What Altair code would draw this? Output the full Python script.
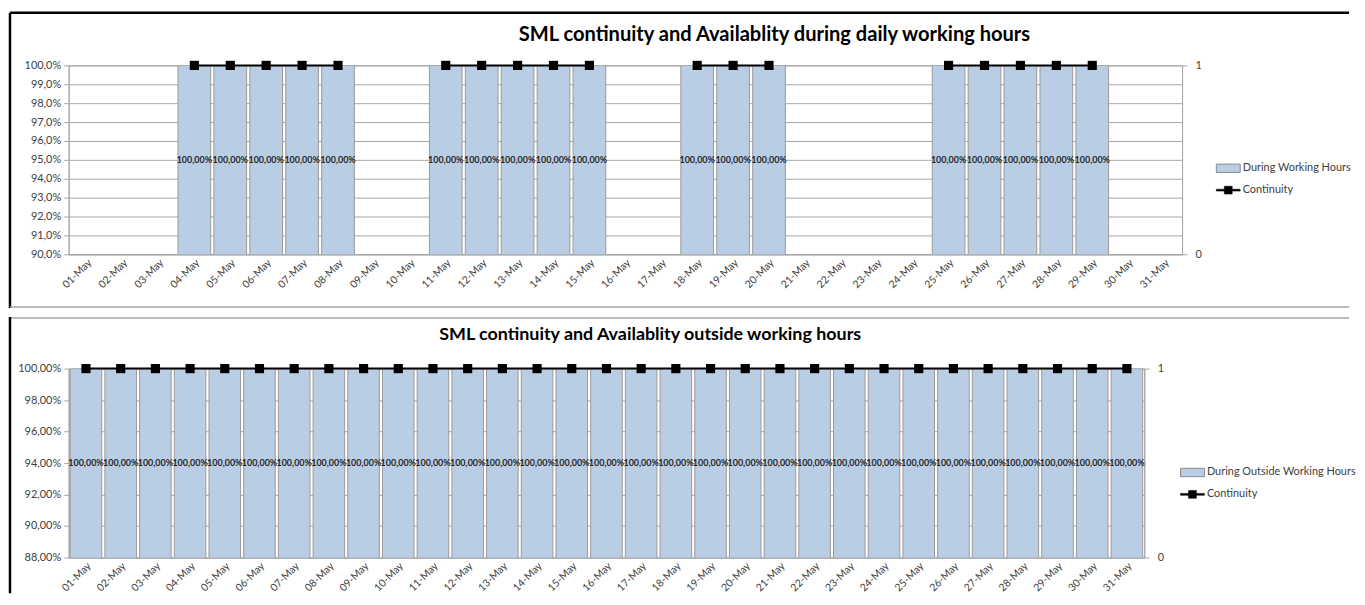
import altair as alt
import pandas as pd

days = ["01-May", "02-May", "03-May", "04-May", "05-May", "06-May", "07-May", "08-May",
        "09-May", "10-May", "11-May", "12-May", "13-May", "14-May", "15-May", "16-May",
        "17-May", "18-May", "19-May", "20-May", "21-May", "22-May", "23-May", "24-May",
        "25-May", "26-May", "27-May", "28-May", "29-May", "30-May", "31-May"]

N = None
top_avail = [N, N, N, 1.0, 1.0, 1.0, 1.0, 1.0, N, N, 1.0, 1.0, 1.0, 1.0, 1.0, N,
             N, 1.0, 1.0, 1.0, N, N, N, N, 1.0, 1.0, 1.0, 1.0, 1.0, N, N]
top_cont = [N, N, N, 1, 1, 1, 1, 1, N, N, 1, 1, 1, 1, 1, N,
            N, 1, 1, 1, N, N, N, N, 1, 1, 1, 1, 1, N, N]

bottom_avail = [1.0, 1.0, 1.0, 1.0, 1.0, 1.0, 1.0, 1.0, 1.0, 1.0, 1.0, 1.0, 1.0, 1.0, 1.0, 1.0,
                1.0, 1.0, 1.0, 1.0, 1.0, 1.0, 1.0, 1.0, 1.0, 1.0, 1.0, 1.0, 1.0, 1.0, 1.0]
bottom_cont = [1, 1, 1, 1, 1, 1, 1, 1, 1, 1, 1, 1, 1, 1, 1, 1,
               1, 1, 1, 1, 1, 1, 1, 1, 1, 1, 1, 1, 1, 1, 1]

top_domain = [0.90, 1.00]
top_ticks = [0.90, 0.91, 0.92, 0.93, 0.94, 0.95, 0.96, 0.97, 0.98, 0.99, 1.00]
bottom_domain = [0.88, 1.00]
bottom_ticks = [0.88, 0.90, 0.92, 0.94, 0.96, 0.98, 1.00]
right_ticks = [0, 1]

top_title = "SML continuity and Availablity during daily working hours"
bottom_title = "SML continuity and Availablity outside working hours"
top_series = "During Working Hours"
bottom_series = "During Outside Working Hours"
line_series = "Continuity"

FONT = "Lato"
TXT = "#404040"
GRID = "#a6a6a6"
BAR_FILL = "#b9cde5"
BAR_STROKE = "#9a9a9a"
LEFT = -59


def panel(avail, cont, series_name, y_domain, y_ticks, pct_fmt, width, height,
          legend_x, legend_y, title, title_x, title_y, title_size, is_top):
    df = pd.DataFrame({"day": days, "avail": avail, "cont": cont})
    df["series"] = series_name
    df["line_series"] = line_series
    base = alt.Chart(df)

    x = alt.X("day:N", sort=days, title=None,
              scale=alt.Scale(paddingInner=0.09, paddingOuter=0.045),
              axis=alt.Axis(labelAngle=-45, ticks=False, domainColor=GRID,
                            labelFont=FONT, labelFontSize=10.5, labelColor=TXT,
                            labelPadding=3))
    left_axis = alt.Axis(values=y_ticks,
                         labelExpr=f"replace(format(datum.value, '{pct_fmt}'), '.', ',')",
                         grid=True, gridColor=GRID, domainColor=GRID, tickColor=GRID,
                         tickSize=5, labelFont=FONT, labelFontSize=11, labelColor=TXT,
                         labelPadding=3)
    left_scale = alt.Scale(domain=y_domain, zero=False, nice=False)

    bars = base.mark_bar(stroke=BAR_STROKE, strokeWidth=1, clip=True).encode(
        x=x,
        y=alt.Y("avail:Q", title=None, scale=left_scale, axis=left_axis),
        fill=alt.Fill("series:N", scale=alt.Scale(domain=[series_name], range=[BAR_FILL]),
                      legend=alt.Legend(title=None, orient="none", legendX=legend_x,
                                        legendY=legend_y,
                                        symbolType="M-1,-0.35H1V0.35H-1Z", symbolSize=576,
                                        symbolStrokeColor="#8a8a8a", symbolStrokeWidth=1,
                                        labelFont=FONT, labelFontSize=11, labelColor=TXT,
                                        labelOffset=2, padding=0)),
    )
    labels = base.transform_filter("isValid(datum.avail)").transform_calculate(
        mid=f"({y_domain[0]} + datum.avail) / 2",
        lab="replace(format(datum.avail, '.2%'), '.', ',')",
    ).mark_text(font=FONT, fontSize=9, fontWeight="bold", color="#262626").encode(
        x=x,
        y=alt.Y("mid:Q", title=None, scale=left_scale, axis=left_axis),
        text="lab:N",
    )
    right_y = alt.Y("cont:Q", title=None, scale=alt.Scale(domain=[0, 1], nice=False),
                    axis=alt.Axis(orient="right", values=right_ticks, format="d", grid=False,
                                  domainColor=GRID, tickColor=GRID, tickSize=5,
                                  labelFont=FONT, labelFontSize=11, labelColor=TXT,
                                  labelPadding=8))
    line = base.mark_line(color="black", strokeWidth=2,
                          invalid="break-paths-filter-domains").encode(
        x=x, y=right_y,
        stroke=alt.Stroke("line_series:N",
                          scale=alt.Scale(domain=[line_series], range=["black"]),
                          legend=alt.Legend(title=None, orient="none", legendX=legend_x,
                                            legendY=legend_y + 22,
                                            symbolType="M-1,-0.08H1V0.08H-1Z M-0.33,-0.33H0.33V0.33H-0.33Z",
                                            symbolSize=576, symbolFillColor="black",
                                            symbolStrokeColor="black", symbolStrokeWidth=0.5,
                                            labelFont=FONT, labelFontSize=11, labelColor=TXT,
                                            labelOffset=2, padding=0)),
    )
    pts = base.mark_point(shape="square", filled=True, size=85, color="black",
                          opacity=1).encode(x=x, y=right_y)

    one = alt.Chart(pd.DataFrame({"k": [0]}))
    deco = []
    if is_top:
        deco.append(one.mark_rule(color="black", strokeWidth=2.5).encode(
            x=alt.value(LEFT), x2=alt.value(1288), y=alt.value(-53)))
        deco.append(one.mark_rule(color="black", strokeWidth=2.5).encode(
            x=alt.value(LEFT), y=alt.value(-53), y2=alt.value(244)))
        deco.append(one.mark_rule(color="#a6a6a6", strokeWidth=1.5).encode(
            x=alt.value(LEFT), x2=alt.value(1288), y=alt.value(243)))
    else:
        deco.append(one.mark_rule(color="#a6a6a6", strokeWidth=1.5).encode(
            x=alt.value(LEFT), x2=alt.value(1288), y=alt.value(-51)))
        deco.append(one.mark_rule(color="black", strokeWidth=2.5).encode(
            x=alt.value(LEFT), y=alt.value(-52), y2=alt.value(226)))
    deco.append(one.mark_text(text=title, font=FONT, fontSize=title_size, fontWeight="bold",
                              color="black", align="center", baseline="middle").encode(
        x=alt.value(title_x), y=alt.value(title_y)))

    left = alt.layer(bars, labels)
    right = alt.layer(line, pts)
    ch = alt.layer(*deco, left, right).resolve_scale(y="independent").properties(
        width=width, height=height,
    )
    return ch


top = panel(top_avail, top_cont, top_series, top_domain, top_ticks, ".1%",
            1120, 190, 1154, 91, top_title, 710, -31, 20.2, True)
bottom = panel(bottom_avail, bottom_cont, bottom_series, bottom_domain, bottom_ticks, ".2%",
               1082, 190, 1118, 92, bottom_title, 585, -34, 18, False)

chart = alt.vconcat(top, bottom, spacing=5).resolve_scale(
    fill="independent", stroke="independent", x="independent"
).resolve_legend(fill="independent", stroke="independent").configure_view(
    stroke=GRID
).properties(padding={"left": 0, "top": 1, "right": 0, "bottom": 0}, background="white")

chart.save("out.html", embed_options={"renderer": "svg", "actions": False})
